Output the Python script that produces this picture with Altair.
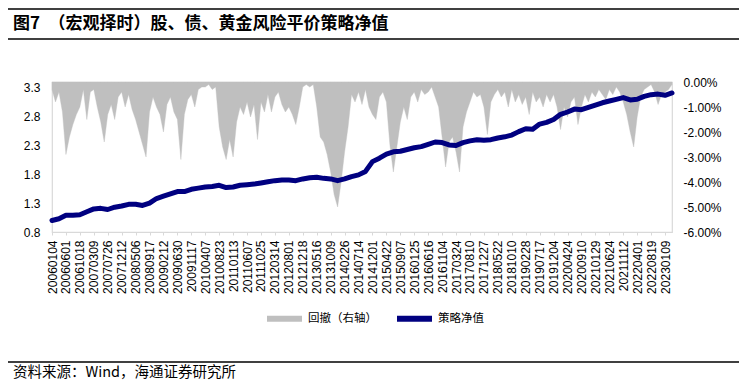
import altair as alt
import pandas as pd

TITLE = "图7\u2002（宏观择时）股、债、黄金风险平价策略净值"
SOURCE = "资料来源：Wind，海通证券研究所"
SERIES = ["回撤（右轴）", "策略净值"]

date_labels = [
    "20060104", "20060601", "20061018", "20070309", "20070726", "20071212",
    "20080506", "20080917", "20090212", "20090630", "20091117", "20100407",
    "20100823", "20110113", "20110607", "20111025", "20120314", "20120801",
    "20121218", "20130516", "20131009", "20140226", "20140714", "20141201",
    "20150422", "20150907", "20160125", "20160616", "20161104", "20170324",
    "20170810", "20171227", "20180522", "20181010", "20190228", "20190717",
    "20191204", "20200424", "20200910", "20210129", "20210624", "20211112",
    "20220401", "20220819", "20230109",
]

# strategy net value, sampled every half label interval
nav_step = 0.5
nav_values = [
    1.00, 1.03, 1.09, 1.09, 1.10, 1.15, 1.20, 1.21, 1.19, 1.23,
    1.25, 1.28, 1.28, 1.26, 1.30, 1.38, 1.42, 1.46, 1.50, 1.50,
    1.54, 1.56, 1.58, 1.59, 1.61, 1.57, 1.58, 1.61, 1.62, 1.63,
    1.65, 1.67, 1.69, 1.70, 1.70, 1.69, 1.72, 1.74, 1.75, 1.73,
    1.72, 1.69, 1.72, 1.76, 1.79, 1.85, 2.02, 2.08, 2.15, 2.19,
    2.20, 2.23, 2.26, 2.28, 2.32, 2.36, 2.35, 2.31, 2.30, 2.35,
    2.38, 2.40, 2.39, 2.40, 2.43, 2.45, 2.48, 2.54, 2.59, 2.58,
    2.67, 2.70, 2.75, 2.84, 2.88, 2.93, 2.92, 2.96, 3.00, 3.04,
    3.07, 3.10, 3.13, 3.09, 3.10, 3.15, 3.18, 3.19, 3.17, 3.21,
]

# drawdown magnitude (%), sampled every quarter label interval
dd_step = 0.25
dd_values = [
    0.3, 0.8, 0.4, 1.2,  2.9, 2.2, 1.7, 1.3,  1.0, 0.3, 1.5, 0.4,
    0.3, 1.0, 1.6, 2.4,  1.3, 0.9, 1.5, 0.6,  0.4, 1.0, 0.5, 1.1,
    1.5, 2.0, 2.5, 3.0,  1.2, 0.6, 1.0, 1.3,  2.0, 0.9, 0.6, 1.2,
    1.5, 3.1, 1.3, 0.7,  0.5, 1.0, 0.3, 0.2,  0.2, 0.1, 0.3, 0.2,
    1.8, 2.6, 3.1, 2.3,  3.0, 1.6, 1.0, 1.3,  0.8, 1.4, 0.9, 2.3,
    0.8, 1.2, 0.5, 1.2,  0.6, 0.4, 0.9, 1.2,  1.0, 1.3, 1.7, 1.0,
    0.2, 0.1, 0.2, 0.1,  1.0, 2.2, 2.4, 2.9,  3.6, 4.5, 5.0, 4.0,
    2.8, 1.8, 0.5, 0.8,  0.4, 0.9, 0.3, 1.0,  1.3, 1.5, 0.6, 0.4,
    0.8, 2.5, 3.6, 2.6,  1.6, 1.0, 1.5, 0.6,  0.4, 0.8, 0.3, 0.5,
    0.4, 0.2, 0.6, 1.0,  2.2, 3.4, 2.4, 2.2,  2.8, 3.6, 1.8, 1.2,
    0.8, 0.4, 0.6, 0.5,  1.0, 2.1, 0.8, 0.5,  0.3, 0.6, 0.4, 1.0,
    0.3, 0.8, 0.5, 0.9,  0.6, 1.3, 0.4, 0.8,  0.6, 1.0, 0.5, 0.8,
    0.5, 1.0, 1.9, 1.0,  1.4, 0.8, 0.6, 1.7,  1.0, 0.5, 0.8, 0.4,
    0.6, 0.3, 0.5, 0.7,  0.3, 0.5, 0.2, 0.4,  0.8, 1.3, 2.0, 2.6,
    1.4, 0.6, 0.3, 0.2,  0.1, 0.4, 0.9, 0.5,  0.4, 0.3, 0.1,
]

left_ticks = [0.8, 1.3, 1.8, 2.3, 2.8, 3.3]
right_ticks = [0, -1, -2, -3, -4, -5, -6]

GRAY = "#BFBFBF"
NAVY = "#000080"
NUM_FONT = "Liberation Sans"
CJK_FONT = "Noto Sans CJK SC"

nav_df = pd.DataFrame({
    "idx": [i * nav_step for i in range(len(nav_values))],
    "nav": nav_values,
    "series": SERIES[1],
})
dd_df = pd.DataFrame({
    "idx": [i * dd_step for i in range(len(dd_values))],
    "dd": [-v for v in dd_values],
    "series": SERIES[0],
})

label_expr = "[" + ",".join("'%s'" % d for d in date_labels) + "][datum.value]"

x_enc = alt.X(
    "idx:Q",
    title=None,
    scale=alt.Scale(domain=[0, 44.5], nice=False, zero=False),
    axis=alt.Axis(
        values=list(range(len(date_labels))),
        labelExpr=label_expr,
        labelAngle=-90,
        labelFont=NUM_FONT,
        labelFontSize=12,
        labelColor="#000000",
        labelPadding=5,
        labelOverlap=False,
        labelBound=False,
        labelFlush=False,
        ticks=True,
        tickSize=3,
        tickColor="#D9D9D9",
        domain=False,
        grid=False,
    ),
)

stroke_enc = alt.Stroke(
    "series:N",
    scale=alt.Scale(domain=SERIES, range=[GRAY, NAVY]),
    legend=alt.Legend(
        title=None,
        orient="none",
        direction="horizontal",
        legendX=212,
        legendY=216,
        symbolType="stroke",
        symbolSize=1225,
        symbolStrokeWidth=6,
        labelFont=CJK_FONT,
        labelFontSize=11.5,
        labelColor="#000000",
        labelOffset=3,
        columnPadding=8,
    ),
)

area = alt.Chart(dd_df).mark_area(fill=GRAY, strokeWidth=0.4).encode(
    x=x_enc,
    y=alt.Y(
        "dd:Q",
        title=None,
        scale=alt.Scale(domain=[-6, 0], nice=False),
        axis=alt.Axis(
            orient="right",
            values=right_ticks,
            labelExpr="datum.value == 0 ? '0.00%' : '-' + format(-datum.value, '.2f') + '%'",
            labelFont=NUM_FONT,
            labelFontSize=12,
            labelColor="#000000",
            labelPadding=11,
            ticks=False,
            tickSize=0,
            domain=False,
            grid=False,
        ),
    ),
    y2=alt.datum(0),
    stroke=stroke_enc,
)

line = alt.Chart(nav_df).mark_line(strokeWidth=5, strokeCap="round", strokeJoin="round").encode(
    x=x_enc,
    y=alt.Y(
        "nav:Q",
        title=None,
        scale=alt.Scale(domain=[0.8, 3.4], nice=False, zero=False),
        axis=alt.Axis(
            orient="left",
            values=left_ticks,
            format=".1f",
            labelFont=NUM_FONT,
            labelFontSize=12,
            labelColor="#000000",
            labelPadding=12,
            ticks=False,
            tickSize=0,
            domain=False,
            grid=False,
        ),
    ),
    stroke=stroke_enc,
)

one = alt.Data(values=[{"t": TITLE, "s": SOURCE}])

title_text = alt.Chart(one).mark_text(
    align="left", baseline="middle", font=CJK_FONT, fontSize=17, fontWeight="bold", color="#000000"
).encode(x=alt.value(-39), y=alt.value(-58), text="t:N")

source_text = alt.Chart(one).mark_text(
    align="left", baseline="middle", font=CJK_FONT, fontSize=14.5, color="#000000"
).encode(x=alt.value(-39), y=alt.value(291), text="s:N")


def hline(ypix):
    return alt.Chart(one).mark_rule(color="#000000", strokeWidth=1.3).encode(
        x=alt.value(-44), x2=alt.value(687), y=alt.value(ypix)
    )


chart = alt.layer(
    area, line, title_text, source_text, hline(-73), hline(-43), hline(280)
).resolve_scale(y="independent").properties(
    width=620,
    height=150,
    autosize=alt.AutoSizeParams(type="none"),
    padding={"left": 44, "top": 74, "right": 67, "bottom": 149},
).configure_view(stroke="#D9D9D9", strokeWidth=1.2)

chart.save("out.html", embed_options={"renderer": "svg", "actions": False})
